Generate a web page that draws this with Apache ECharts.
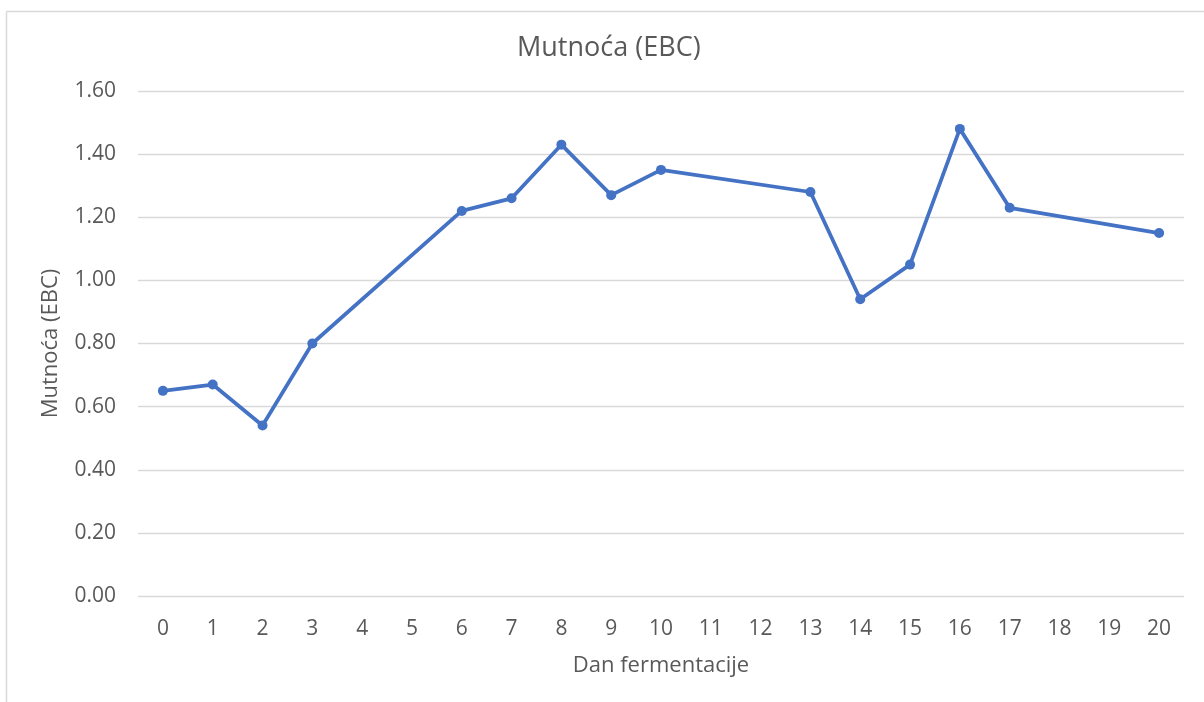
<!DOCTYPE html>
<html>
<head>
<meta charset="utf-8">
<script src="https://cdn.jsdelivr.net/npm/echarts@6/dist/echarts.min.js"></script>
<style>html,body{margin:0;padding:0;background:#fff}#c{width:1204px;height:702px}</style>
</head>
<body>
<div id="c"></div>
<script>
var days = ['0','1','2','3','4','5','6','7','8','9','10','11','12','13','14','15','16','17','18','19','20'];
var turbidity = [0.65, 0.67, 0.54, 0.80, null, null, 1.22, 1.26, 1.43, 1.27, 1.35, null, null, 1.28, 0.94, 1.05, 1.48, 1.23, null, null, 1.15];
var titleText = 'Mutnoća (EBC)';
var yName = 'Mutnoća (EBC)';
var xName = 'Dan fermentacije';

var font = '"Open Sans", "Segoe UI", sans-serif';
var chart = echarts.init(document.getElementById('c'), null, {renderer: 'canvas'});
chart.setOption({
  animation: false,
  backgroundColor: '#fff',
  graphic: [
    {type: 'line', shape: {x1: 6.5, y1: 11.5, x2: 1204, y2: 11.5}, style: {stroke: '#d9d9d9', lineWidth: 1.5}, silent: true},
    {type: 'line', shape: {x1: 6.5, y1: 11.5, x2: 6.5, y2: 702}, style: {stroke: '#d9d9d9', lineWidth: 1.5}, silent: true}
  ],
  title: {
    text: titleText, left: 512, top: 30,
    textStyle: {fontFamily: font, fontSize: 27, fontWeight: 'normal', color: '#595959'}
  },
  grid: {left: 138, right: 20, top: 91, bottom: 106, containLabel: false},
  xAxis: {
    type: 'category', data: days, boundaryGap: true,
    name: xName, nameLocation: 'middle', nameGap: 59,
    nameTextStyle: {fontFamily: font, fontSize: 22, color: '#595959'},
    axisLine: {show: false}, axisTick: {show: false},
    axisLabel: {fontFamily: font, fontSize: 21, color: '#595959', margin: 23, interval: 0}
  },
  yAxis: {
    type: 'value', min: 0, max: 1.6, interval: 0.2,
    name: yName, nameLocation: 'middle', nameGap: 76, nameRotate: 90,
    nameTextStyle: {fontFamily: font, fontSize: 22, color: '#595959'},
    axisLine: {show: false}, axisTick: {show: false},
    axisLabel: {fontFamily: font, fontSize: 21, color: '#595959', margin: 22, formatter: function(v){return v.toFixed(2);}},
    splitLine: {lineStyle: {color: '#d9d9d9', width: 1.3}}
  },
  series: [{
    type: 'line', data: turbidity, connectNulls: true,
    symbol: 'circle', symbolSize: 10, showAllSymbol: true,
    lineStyle: {color: '#4472C4', width: 3.75},
    itemStyle: {color: '#4472C4'}
  }]
});
</script>
</body>
</html>
